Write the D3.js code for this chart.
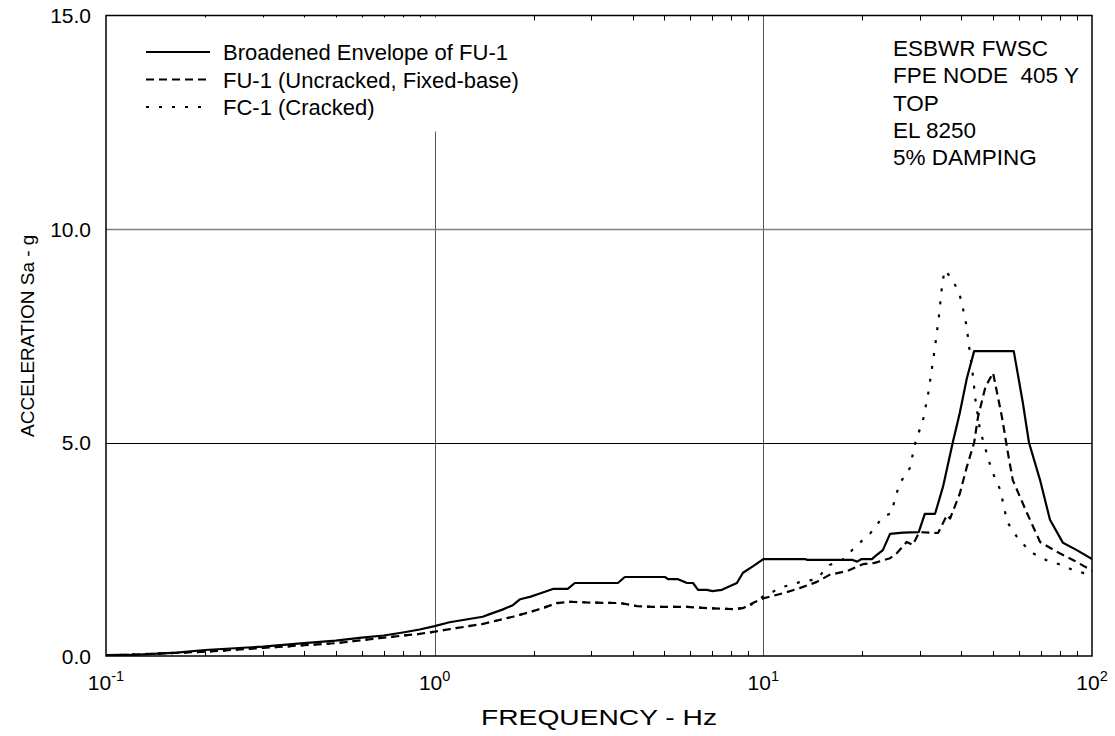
<!DOCTYPE html>
<html lang="en">
    <head>
        <meta charset="utf-8" />
        <title>FPE Node 405 Y Spectra</title>
        <script type="text/javascript" src="https://cdn.jsdelivr.net/npm/d3@7"></script>
        <style type="text/css">
            body {
                margin: 0;
                background: white;
            }
            text {
                font-family: "Liberation Sans", Arial, sans-serif;
                fill: black;
            }
        </style>
    </head>
    <body>
        <script type="text/javascript">
            // Broadened envelope of FU-1
            var envFreq = [0.1, 0.126, 0.164, 0.2, 0.3, 0.4, 0.5, 0.6, 0.7, 0.8, 0.9, 1.0, 1.11, 1.4, 1.47, 1.6, 1.73, 1.82, 1.96, 2.1, 2.29, 2.54, 2.67, 3.61, 3.79, 5.02, 5.13, 5.5, 5.86, 6.11, 6.33, 6.73, 7.0, 7.48, 8.31, 8.67, 9.29, 10.0, 13.4, 13.6, 18.7, 19.3, 19.9, 21.4, 22.0, 23.1, 24.3, 26.6, 29.7, 31.0, 33.3, 35.2, 37.7, 39.6, 41.6, 43.8, 57.8, 61.6, 64.3, 69.5, 74.5, 81.6, 89.9, 100];
            var envAcc = [0.02, 0.03, 0.08, 0.14, 0.22, 0.3, 0.36, 0.43, 0.48, 0.55, 0.62, 0.7, 0.79, 0.92, 0.98, 1.08, 1.19, 1.33, 1.39, 1.47, 1.57, 1.57, 1.71, 1.71, 1.85, 1.85, 1.8, 1.8, 1.71, 1.71, 1.55, 1.55, 1.52, 1.55, 1.71, 1.95, 2.1, 2.27, 2.27, 2.25, 2.25, 2.21, 2.27, 2.27, 2.35, 2.48, 2.86, 2.89, 2.9, 3.33, 3.33, 3.96, 5.0, 5.69, 6.5, 7.14, 7.14, 5.93, 5.0, 4.12, 3.19, 2.65, 2.48, 2.27];

            // FU-1 (uncracked, fixed-base)
            var fuFreq = [0.1, 0.2, 0.3, 0.5, 0.7, 0.9, 1.0, 1.113, 1.4, 1.73, 1.95, 2.13, 2.35, 2.58, 3.03, 3.67, 4.12, 4.61, 5.86, 6.73, 8.09, 8.67, 9.29, 10.0, 11.5, 12.9, 14.5, 15.9, 18.0, 20.1, 21.8, 24.3, 25.5, 27.3, 28.5, 29.8, 34.0, 36.2, 37.0, 39.6, 41.5, 43.8, 45.0, 47.4, 50.0, 53.2, 55.5, 57.4, 63.4, 69.5, 78.2, 87.5, 100];
            var fuAcc = [0.01, 0.1, 0.19, 0.3, 0.43, 0.52, 0.57, 0.63, 0.75, 0.92, 1.03, 1.12, 1.24, 1.27, 1.25, 1.24, 1.17, 1.15, 1.15, 1.12, 1.1, 1.12, 1.24, 1.35, 1.47, 1.59, 1.73, 1.9, 1.99, 2.15, 2.18, 2.29, 2.41, 2.67, 2.6, 2.9, 2.88, 3.3, 3.22, 3.8, 4.4, 5.0, 5.6, 6.3, 6.63, 5.6, 4.75, 4.12, 3.35, 2.67, 2.44, 2.25, 2.0];

            // FC-1 (cracked)
            var fcFreq = [0.1, 0.2, 0.3, 0.5, 0.7, 0.9, 1.0, 1.113, 1.4, 1.73, 1.95, 2.13, 2.35, 2.58, 3.03, 3.67, 4.12, 4.61, 5.86, 6.73, 8.09, 8.67, 9.4, 10.0, 11.5, 12.9, 14.5, 15.9, 17.4, 19.3, 21.1, 23.1, 24.6, 25.2, 26.2, 27.9, 29.2, 30.5, 31.8, 33.3, 34.2, 35.0, 35.6, 37.7, 39.6, 40.6, 41.6, 42.1, 43.3, 44.2, 45.6, 47.2, 48.8, 50.5, 52.6, 55.2, 59.1, 64.8, 72.4, 81.0, 88.9, 100];
            var fcAcc = [0.01, 0.1, 0.19, 0.3, 0.43, 0.52, 0.57, 0.63, 0.75, 0.92, 1.03, 1.12, 1.24, 1.27, 1.25, 1.24, 1.17, 1.15, 1.15, 1.12, 1.1, 1.12, 1.24, 1.4, 1.62, 1.73, 1.8, 2.13, 2.25, 2.6, 2.86, 3.26, 3.35, 3.73, 4.08, 4.4, 5.1, 5.46, 6.18, 7.24, 7.94, 8.69, 9.04, 8.81, 8.45, 8.1, 7.7, 7.35, 6.65, 6.0, 5.3, 4.9, 4.52, 4.19, 3.89, 3.14, 2.79, 2.44, 2.25, 2.13, 1.99, 1.9];

            var yTicks = [0, 5, 10, 15];
            var xDecades = [0.1, 1, 10, 100];
            var xExponents = ["-1", "0", "1", "2"];
            var legendLabels = ["Broadened Envelope of FU-1", "FU-1 (Uncracked, Fixed-base)", "FC-1 (Cracked)"];
            var noteLines = ["ESBWR FWSC", "FPE NODE  405 Y", "TOP", "EL 8250", "5% DAMPING"];

            var w = 1115;
            var h = 736;
            var plotLeft = 106;
            var plotRight = 1092;
            var plotTop = 15.5;
            var plotBottom = 656;

            var xScale = d3.scaleLog().domain([0.1, 100]).range([plotLeft, plotRight]);
            var yScale = d3.scaleLinear().domain([0, 15]).range([plotBottom, plotTop]);

            var svg = d3
                .select("body")
                .append("svg")
                .attr("width", w)
                .attr("height", h);

            svg.append("defs")
                .append("clipPath")
                .attr("id", "plot-clip")
                .append("rect")
                .attr("x", plotLeft)
                .attr("y", plotTop)
                .attr("width", plotRight - plotLeft)
                .attr("height", plotBottom - plotTop);

            // vertical gridlines at decades
            svg.selectAll("line.vgrid")
                .data(xDecades.slice(1, 3))
                .enter()
                .append("line")
                .attr("class", "vgrid")
                .attr("x1", function(d) {
                    return Math.round(xScale(d)) + 0.5;
                })
                .attr("x2", function(d) {
                    return Math.round(xScale(d)) + 0.5;
                })
                .attr("y1", plotTop)
                .attr("y2", plotBottom)
                .attr("stroke", "#555")
                .attr("stroke-width", 1);

            // horizontal gridlines
            svg.selectAll("line.hgrid")
                .data([5, 10])
                .enter()
                .append("line")
                .attr("class", "hgrid")
                .attr("x1", plotLeft)
                .attr("x2", plotRight)
                .attr("y1", function(d) {
                    return Math.round(yScale(d)) + 0.5;
                })
                .attr("y2", function(d) {
                    return Math.round(yScale(d)) + 0.5;
                })
                .attr("stroke", function(d) {
                    return d == 10 ? "#808080" : "#000";
                })
                .attr("stroke-width", function(d) {
                    return d == 10 ? 1.6 : 1;
                });

            // minor ticks, bottom (pointing up) and top (pointing down)
            var minor = [];
            xDecades.slice(0, 3).forEach(function(dec) {
                for (var k = 2; k <= 9; k++) {
                    minor.push(dec * k);
                }
            });
            svg.selectAll("line.tickb")
                .data(minor)
                .enter()
                .append("line")
                .attr("x1", function(d) {
                    return Math.round(xScale(d)) + 0.5;
                })
                .attr("x2", function(d) {
                    return Math.round(xScale(d)) + 0.5;
                })
                .attr("y1", plotBottom)
                .attr("y2", plotBottom - 5)
                .attr("stroke", "#000")
                .attr("stroke-width", 1);
            svg.selectAll("line.tickt")
                .data(minor)
                .enter()
                .append("line")
                .attr("x1", function(d) {
                    return Math.round(xScale(d)) + 0.5;
                })
                .attr("x2", function(d) {
                    return Math.round(xScale(d)) + 0.5;
                })
                .attr("y1", plotTop)
                .attr("y2", plotTop + 5)
                .attr("stroke", "#000")
                .attr("stroke-width", 1);

            // legend backdrop hides the 10^0 gridline behind it
            svg.append("rect")
                .attr("x", 110)
                .attr("y", plotTop + 2)
                .attr("width", 420)
                .attr("height", 114)
                .attr("fill", "white");

            // curves
            var line = d3
                .line()
                .x(function(d) {
                    return xScale(d[0]);
                })
                .y(function(d) {
                    return yScale(d[1]);
                });

            var series = [
                { freq: envFreq, acc: envAcc, dash: null },
                { freq: fuFreq, acc: fuAcc, dash: "8,5" },
                { freq: fcFreq, acc: fcAcc, dash: "3,10" }
            ];

            svg.append("g")
                .attr("clip-path", "url(#plot-clip)")
                .selectAll("path")
                .data(series)
                .enter()
                .append("path")
                .attr("d", function(s) {
                    return line(d3.zip(s.freq, s.acc));
                })
                .attr("fill", "none")
                .attr("stroke", "#000")
                .attr("stroke-width", 2.2)
                .attr("stroke-linejoin", "round")
                .attr("stroke-dasharray", function(s) {
                    return s.dash;
                });

            // frame
            svg.append("rect")
                .attr("x", plotLeft)
                .attr("y", plotTop)
                .attr("width", plotRight - plotLeft)
                .attr("height", plotBottom - plotTop)
                .attr("fill", "none")
                .attr("stroke", "#000")
                .attr("stroke-width", 1.5);

            // y tick labels
            svg.selectAll("text.ylab")
                .data(yTicks)
                .enter()
                .append("text")
                .attr("x", 91)
                .attr("y", function(d) {
                    return yScale(d) + 7.5;
                })
                .attr("text-anchor", "end")
                .attr("font-size", "21px")
                .text(function(d) {
                    return d.toFixed(1);
                });

            // x tick labels with superscript exponent
            var xl = svg.selectAll("text.xlab")
                .data(xDecades)
                .enter()
                .append("text")
                .attr("x", function(d) {
                    return xScale(d);
                })
                .attr("y", 690)
                .attr("text-anchor", "middle")
                .attr("font-size", "21px");
            xl.append("tspan").text("10");
            xl.append("tspan")
                .attr("dy", -9)
                .attr("font-size", "14.5px")
                .text(function(d, i) {
                    return xExponents[i];
                });

            // axis titles
            svg.append("text")
                .attr("x", (plotLeft + plotRight) / 2)
                .attr("y", 725)
                .attr("text-anchor", "middle")
                .attr("font-size", "22px")
                .attr("textLength", 236)
                .attr("lengthAdjust", "spacingAndGlyphs")
                .text("FREQUENCY - Hz");

            svg.append("text")
                .attr("transform", "translate(34," + (plotTop + plotBottom) / 2 + ") rotate(-90)")
                .attr("text-anchor", "middle")
                .attr("font-size", "19px")
                .text("ACCELERATION Sa - g");

            // legend
            var legend = svg.selectAll("g.legend")
                .data(series)
                .enter()
                .append("g")
                .attr("transform", function(d, i) {
                    return "translate(0," + (52 + i * 27.5) + ")";
                });
            legend.append("line")
                .attr("x1", 146)
                .attr("x2", 210)
                .attr("y1", 0)
                .attr("y2", 0)
                .attr("stroke", "#000")
                .attr("stroke-width", 2.2)
                .attr("stroke-dasharray", function(s) {
                    return s.dash;
                });
            legend.append("text")
                .attr("x", 223)
                .attr("y", 8)
                .attr("font-size", "22px")
                .text(function(d, i) {
                    return legendLabels[i];
                });

            // note block
            svg.selectAll("text.note")
                .data(noteLines)
                .enter()
                .append("text")
                .attr("x", 893)
                .attr("y", function(d, i) {
                    return 56 + i * 27.3;
                })
                .attr("font-size", "22.5px")
                .style("white-space", "pre")
                .text(function(d) {
                    return d;
                });
        </script>
    </body>
</html>
